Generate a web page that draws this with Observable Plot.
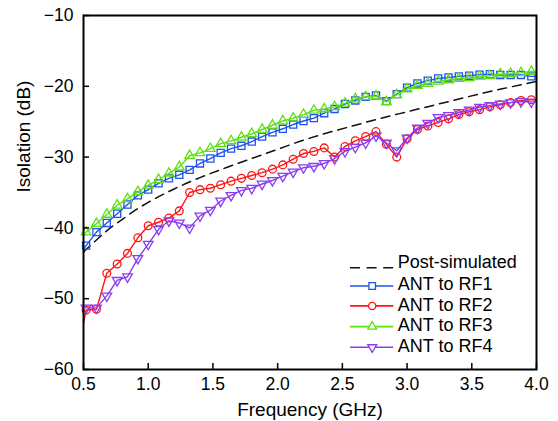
<!DOCTYPE html>
<html>
<head>
<meta charset="utf-8">
<script src="https://cdn.jsdelivr.net/npm/d3@7"></script>
<script src="https://cdn.jsdelivr.net/npm/@observablehq/plot@0.6"></script>
<style>
  html, body { margin: 0; padding: 0; background: #fff; }
</style>
</head>
<body>
<div id="chart"></div>
<script>
// ---- data ----
const freq = [0.50, 0.52, 0.60, 0.68, 0.76, 0.84, 0.92, 1.00, 1.08, 1.16, 1.24, 1.32, 1.40, 1.48, 1.56, 1.64,
  1.72, 1.80, 1.88, 1.96, 2.04, 2.12, 2.20, 2.28, 2.36, 2.44, 2.52, 2.60, 2.68, 2.76, 2.84, 2.92,
  3.00, 3.08, 3.16, 3.24, 3.32, 3.40, 3.48, 3.56, 3.64, 3.72, 3.80, 3.88, 3.96, 4.00];

const rf1 = [-43.0, -42.5, -40.6, -39.3, -38.0, -36.7, -35.4, -34.6, -33.7, -33.0, -32.5, -31.8, -30.9, -30.2, -29.4, -28.8,
  -28.4, -27.8, -27.1, -26.5, -26.0, -25.4, -24.9, -24.5, -23.8, -23.2, -22.5, -22.0, -21.5, -21.3, -22.1, -21.1,
  -20.2, -19.6, -19.2, -18.9, -18.75, -18.6, -18.5, -18.35, -18.3, -18.4, -18.4, -18.4, -18.6, -18.6];

const rf2 = [-53.5, -51.6, -51.5, -46.4, -45.1, -43.6, -41.4, -39.7, -39.2, -38.6, -37.6, -35.0, -34.6, -34.4, -33.9, -33.4,
  -33.0, -32.6, -32.2, -31.7, -31.1, -30.3, -29.5, -29.2, -28.7, -30.0, -28.5, -27.7, -27.1, -26.4, -28.2, -30.0,
  -27.4, -26.1, -25.6, -25.1, -24.6, -24.0, -23.6, -23.3, -22.9, -22.6, -22.3, -22.0, -21.9, -21.9];

const rf3 = [-41.0, -40.6, -39.4, -38.1, -36.8, -35.9, -34.9, -34.0, -33.2, -32.3, -31.4, -29.8, -29.4, -28.8, -28.1, -27.7,
  -27.2, -26.7, -26.1, -25.5, -24.9, -24.5, -24.0, -23.4, -23.2, -22.9, -22.4, -21.8, -21.5, -21.4, -22.2, -21.2,
  -20.4, -19.9, -19.6, -19.3, -19.1, -18.9, -18.8, -18.6, -18.5, -18.3, -18.2, -18.1, -17.9, -17.9];

const rf4 = [-51.0, -51.3, -51.3, -49.6, -47.4, -46.9, -44.3, -42.3, -40.2, -39.0, -39.3, -40.0, -38.3, -37.5, -36.2, -35.4,
  -34.7, -34.4, -33.8, -33.3, -32.7, -32.1, -31.5, -31.3, -30.9, -30.2, -29.2, -28.6, -28.0, -27.0, -28.0, -29.1,
  -27.3, -25.9, -25.2, -24.4, -24.1, -23.7, -23.35, -22.95, -22.7, -22.5, -22.3, -22.15, -22.2, -22.2];

const simFreq = [0.5, 0.6, 0.7, 0.8, 0.9, 1.0, 1.2, 1.4, 1.6, 1.8, 2.0, 2.2, 2.4, 2.6, 2.8, 3.0, 3.2, 3.4, 3.6, 3.8, 4.0];
const simValues = [-43.4, -41.7, -40.1, -38.8, -37.5, -36.4, -34.5, -32.9, -31.5, -30.2, -28.9, -27.6, -26.5, -25.5, -24.5,
  -23.6, -22.7, -21.8, -20.9, -20.1, -19.3];

const xTicks = [0.5, 1.0, 1.5, 2.0, 2.5, 3.0, 3.5, 4.0];
const yTicks = [-60, -50, -40, -30, -20, -10];

const simName = "Post-simulated";
const seriesNames = ["ANT to RF1", "ANT to RF2", "ANT to RF3", "ANT to RF4"];
const seriesValues = [rf1, rf2, rf3, rf4];
const xTitle = "Frequency (GHz)";
const yTitle = "Isolation (dB)";

// ---- styles ----
const colors = ["#1f52f0", "#ff1414", "#5ee015", "#8a3cf0"];
const symbols = ["square", "circle", "triangle", "triangle"];
const rotations = [0, 0, 0, 180];
const radii = [4.0, 3.9, 3.6, 3.6];

const W = 558, H = 421, mL = 83, mR = 22, mT = 15, mB = 52;
const dbPerPx = 50 / (H - mT - mB);
const ghzPerPx = 3.5 / (W - mL - mR);
const pxToDb = y => -10 - (y - mT) * dbPerPx;
const pxToGhz = x => 0.5 + (x - mL) * ghzPerPx;
const FONT = "'Liberation Sans', Arial, sans-serif";

const rowsOf = (vals, name) => freq.map((f, i) => ({ f, v: vals[i], i, name }));
const simRows = simFreq.map((f, i) => ({ f, v: simValues[i] }));

const marks = [];
marks.push(Plot.line(simRows, { x: "f", y: "v", stroke: "#111", strokeWidth: 1.5, strokeDasharray: "9,6", curve: "monotone-x" }));
seriesNames.forEach((name, s) => {
  const rows = rowsOf(seriesValues[s], name);
  marks.push(Plot.line(rows, { x: "f", y: "v", stroke: colors[s], strokeWidth: 1.4 }));
  marks.push(Plot.dot(rows, {
    x: "f", y: "v", filter: d => d.i > 0 && d.i < freq.length - 1,
    symbol: symbols[s], r: radii[s], rotate: rotations[s],
    stroke: colors[s], fill: "none", strokeWidth: 1.3
  }));
});

// inward tick marks
marks.push(Plot.ruleX(xTicks, { x: d => d, y1: -60, y2: -60 + 6 * dbPerPx, stroke: "black", strokeWidth: 1.5 }));
marks.push(Plot.ruleY(yTicks, { y: d => d, x1: 0.5, x2: 0.5 + 6 * ghzPerPx, stroke: "black", strokeWidth: 1.5 }));

// axes
marks.push(Plot.axisX({ ticks: xTicks, tickSize: 0, tickPadding: 8, tickFormat: d3.format(".1f"), label: null, fontSize: 17.5 }));
marks.push(Plot.axisY({ ticks: yTicks, tickSize: 0, tickPadding: 10, tickFormat: d3.format("d"), label: null, fontSize: 17.5 }));
marks.push(Plot.text([xTitle], { frameAnchor: "bottom", dy: 46, lineAnchor: "bottom", fontSize: 19, fill: "black" }));
marks.push(Plot.text([yTitle], { frameAnchor: "left", dx: -54, rotate: -90, lineAnchor: "bottom", fontSize: 19, fill: "black" }));

// legend (pixel layout converted to data coordinates)
const legBase = [267, 289.5, 310.2, 330.9, 351.6];   // text baselines
const legLine = [267.3, 285.5, 305.4, 326.1, 346.8]; // sample-line positions
const legX1 = pxToGhz(350), legX2 = pxToGhz(393.3), legXm = pxToGhz(371.7), legXt = pxToGhz(397.3);
const legendNames = [simName, ...seriesNames];
marks.push(Plot.ruleY([pxToDb(legLine[0])], { y: d => d, x1: legX1, x2: legX2, stroke: "#111", strokeWidth: 1.5, strokeDasharray: "10,6.6" }));
seriesNames.forEach((name, s) => {
  const yy = pxToDb(legLine[s + 1]);
  marks.push(Plot.ruleY([yy], { y: d => d, x1: legX1, x2: legX2, stroke: colors[s], strokeWidth: 1.6 }));
  marks.push(Plot.dot([yy], { x: legXm, y: d => d, symbol: symbols[s], r: radii[s] - 0.3, rotate: rotations[s], stroke: colors[s], fill: "white", strokeWidth: 1.3 }));
});
marks.push(Plot.text(legendNames, {
  x: legXt, y: (d, i) => pxToDb(legBase[i]), text: d => d, textAnchor: "start", lineAnchor: "bottom",
  fontSize: 18, fill: "black"
}));

marks.push(Plot.frame({ stroke: "black", strokeWidth: 2 }));

const chart = Plot.plot({
  width: W, height: H,
  marginLeft: mL, marginRight: mR, marginTop: mT, marginBottom: mB,
  x: { domain: [0.5, 4.0] },
  y: { domain: [-60, -10] },
  style: { fontFamily: FONT, fontSize: "17px", background: "white", color: "black" },
  marks
});
document.getElementById("chart").appendChild(chart);
</script>
</body>
</html>
